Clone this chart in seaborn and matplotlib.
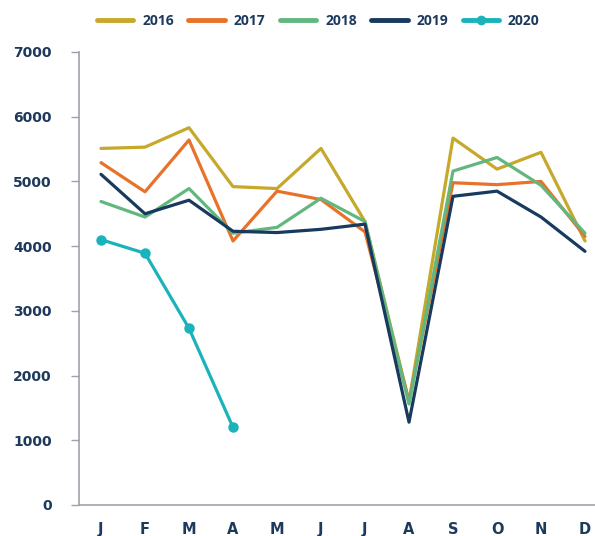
import matplotlib
matplotlib.use("Agg")
import matplotlib.pyplot as plt
import seaborn as sns
import pandas as pd
import numpy as np
from matplotlib.lines import Line2D

months = ["J", "F", "M", "A", "M", "J", "J", "A", "S", "O", "N", "D"]
y2016 = [5510, 5530, 5830, 4920, 4890, 5510, 4380, 1600, 5670, 5190, 5450, 4080]
y2017 = [5290, 4840, 5640, 4080, 4850, 4720, 4220, 1600, 4980, 4950, 5000, 4150]
y2018 = [4690, 4450, 4890, 4200, 4290, 4740, 4380, 1560, 5160, 5370, 4940, 4200]
y2019 = [5110, 4500, 4710, 4230, 4210, 4260, 4340, 1280, 4770, 4850, 4450, 3920]
y2020 = [4100, 3890, 2730, 1200]
years = ["2016", "2017", "2018", "2019", "2020"]
colors = ["#c6a82a", "#e8722a", "#62b77e", "#173a5e", "#1ab3bc"]
yticks = [0, 1000, 2000, 3000, 4000, 5000, 6000, 7000]

series = [y2016, y2017, y2018, y2019, y2020]
rows = []
for yr, vals in zip(years, series):
    for i, v in enumerate(vals):
        rows.append({"year": yr, "idx": i, "value": v})
df = pd.DataFrame(rows)

sns.set_style("white")
plt.rcParams["font.family"] = ["DejaVu Sans"]

navy = "#1d3a5c"
grey = "#9ea3aa"

fig = plt.figure(figsize=(5.95, 5.36), dpi=100)
ax = fig.add_axes([79 / 595, 1 - 505 / 536, 528 / 595, (505 - 52) / 536])

palette = dict(zip(years, colors))
main = df[df.year != "2020"]
sns.lineplot(data=main, x="idx", y="value", hue="year", palette=palette,
             linewidth=2.3, legend=False, ax=ax, sort=False)
sns.lineplot(data=df[df.year == "2020"], x="idx", y="value", color=palette["2020"],
             linewidth=2.3, marker="o", markersize=7.5, markeredgewidth=0,
             legend=False, ax=ax, sort=False)

ax.set_xlim(-0.5, 11.5)
ax.set_ylim(0, 7000)
ax.set_xlabel("")
ax.set_ylabel("")

# boundary ticks (major, no labels), labels at centers (minor)
ax.set_xticks(np.arange(-0.5, 11.5, 1.0))
ax.set_xticklabels([])
ax.set_xticks(np.arange(12), minor=True)
ax.set_xticklabels(months, minor=True, fontsize=10.5, fontweight="bold", color=navy)
ax.tick_params(axis="x", which="major", length=4, width=1, color=grey, direction="out")
ax.tick_params(axis="x", which="minor", length=0, pad=12.5)

ax.set_yticks(yticks)
ax.set_yticklabels([str(t) for t in yticks], fontsize=10, fontweight="bold", color=navy)
ax.tick_params(axis="y", length=6, width=1, color=grey, pad=13.5, left=True)

for s in ["top", "right"]:
    ax.spines[s].set_visible(False)
for s in ["left", "bottom"]:
    ax.spines[s].set_color(grey)
    ax.spines[s].set_linewidth(1.2)

handles = []
for yr, c in zip(years, colors):
    if yr == "2020":
        h = Line2D([0], [0], color=c, linewidth=3.5, marker="o", markersize=7,
                   markeredgewidth=0, solid_capstyle="round")
    else:
        h = Line2D([0], [0], color=c, linewidth=3.5, solid_capstyle="round")
    handles.append(h)

leg = fig.legend(handles, years, loc="center left", bbox_to_anchor=(97 / 595, 1 - 21 / 536),
                 ncol=5, frameon=False, borderpad=0, borderaxespad=0,
                 handlelength=2.6, handletextpad=0.65, columnspacing=1.05,
                 prop={"family": "Open Sans", "weight": "bold", "size": 10})
for t in leg.get_texts():
    t.set_color(navy)

fig.savefig("out.png", dpi=100)
